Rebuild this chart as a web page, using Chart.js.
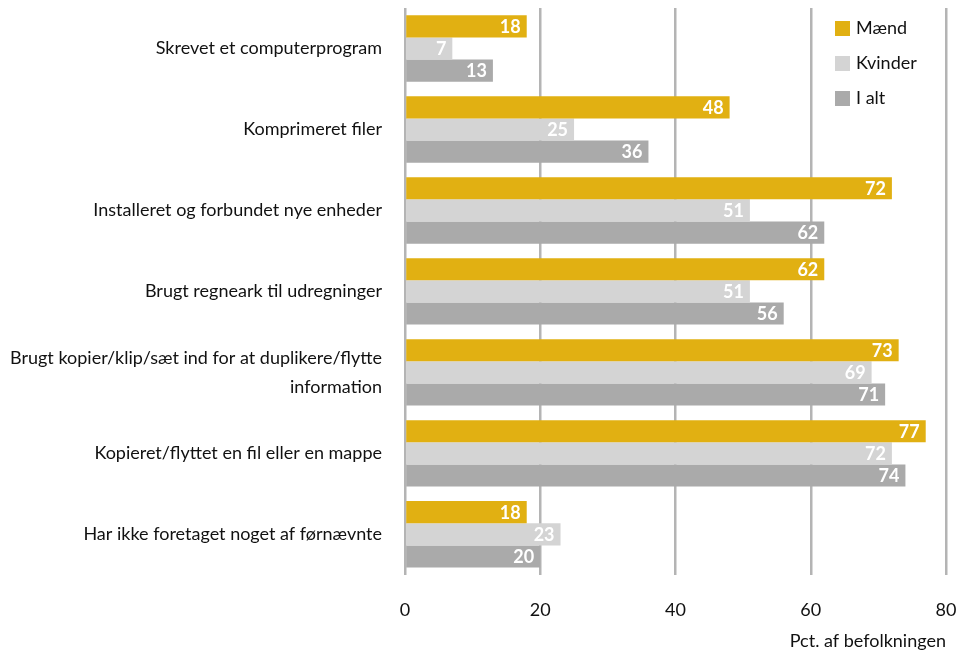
<!DOCTYPE html>
<html>
<head>
<meta charset="utf-8">
<script src="https://cdn.jsdelivr.net/npm/chart.js@4/dist/chart.umd.min.js"></script>
<style>
body{margin:0;background:#fff;}
#wrap{position:relative;width:972px;height:655px;}
#legend{position:absolute;left:835px;top:16px;font-family:Lato,"Open Sans",sans-serif;font-size:18px;color:#111;}
#legend div{height:35px;display:flex;align-items:flex-start;}
#legend span.box{display:inline-block;width:15px;height:15px;margin:5px 6px 0 0;}
</style>
</head>
<body>
<div id="wrap">
<canvas id="c" width="972" height="655"></canvas>
<div id="legend"></div>
</div>
<script>
/* DATA */
let categories=[
"Skrevet et computerprogram",
"Komprimeret filer",
"Installeret og forbundet nye enheder",
"Brugt regneark til udregninger",
["Brugt kopier/klip/sæt ind for at duplikere/flytte","information"],
"Kopieret/flyttet en fil eller en mappe",
"Har ikke foretaget noget af førnævnte"
];
let seriesNames=["Mænd","Kvinder","I alt"];
let maend=[18,48,72,62,73,77,18];
let kvinder=[7,25,51,51,69,72,23];
let ialt=[13,36,62,56,71,74,20];
let xTicks=[0,20,40,60,80];
let axisTitle="Pct. af befolkningen";

let colors=["#E1B012","#D4D4D4","#AAAAAA"];
let FONT="Lato, 'Open Sans', sans-serif";

/* value labels at bar end */
let barLabels={
id:"barLabels",
afterDatasetsDraw(chart){
let ctx=chart.ctx;
ctx.save();
ctx.font="bold 18px "+FONT;
ctx.fillStyle="#fff";
ctx.textAlign="right";
ctx.textBaseline="middle";
chart.data.datasets.forEach((ds,i)=>{
chart.getDatasetMeta(i).data.forEach((bar,j)=>{
ctx.fillText(String(ds.data[j]),bar.x-6,bar.y+1);
});
});
ctx.restore();
}
};

let chart=new Chart(document.getElementById("c"),{
type:"bar",
data:{
labels:categories,
datasets:[maend,kvinder,ialt].map((d,i)=>({
label:seriesNames[i],
data:d,
backgroundColor:colors[i],
categoryPercentage:0.82,
barPercentage:1
}))
},
options:{
indexAxis:"y",
responsive:false,
animation:false,
devicePixelRatio:1,
layout:{padding:{top:8,right:26,bottom:3,left:0}},
plugins:{legend:{display:false},tooltip:{enabled:false}},
scales:{
x:{
min:0,max:80,
afterBuildTicks(s){s.ticks=xTicks.map(v=>({value:v}));},
afterFit(s){s.paddingLeft=0;s.paddingRight=0;},
grid:{color:"#B4B4B4",lineWidth:2.5,drawTicks:false},
border:{display:false},
ticks:{color:"#111",font:{family:FONT,size:18},padding:25},
title:{display:true,text:axisTitle,align:"end",color:"#111",font:{family:FONT,size:18},padding:{top:-16,bottom:0}}
},
y:{
afterFit(s){s.width=405;s.paddingTop=0;s.paddingBottom=0;},
grid:{display:false},
border:{display:false},
ticks:{color:"#111",font:{family:FONT,size:18,lineHeight:1.6},padding:15,crossAlign:"near"}
}
}
},
plugins:[barLabels]
});

/* LEGEND */
let lg=document.getElementById("legend");
seriesNames.forEach((n,i)=>{
lg.innerHTML+="<div><span class='box' style='background:"+colors[i]+"'></span>"+n+"</div>";
});
</script>
</body>
</html>
